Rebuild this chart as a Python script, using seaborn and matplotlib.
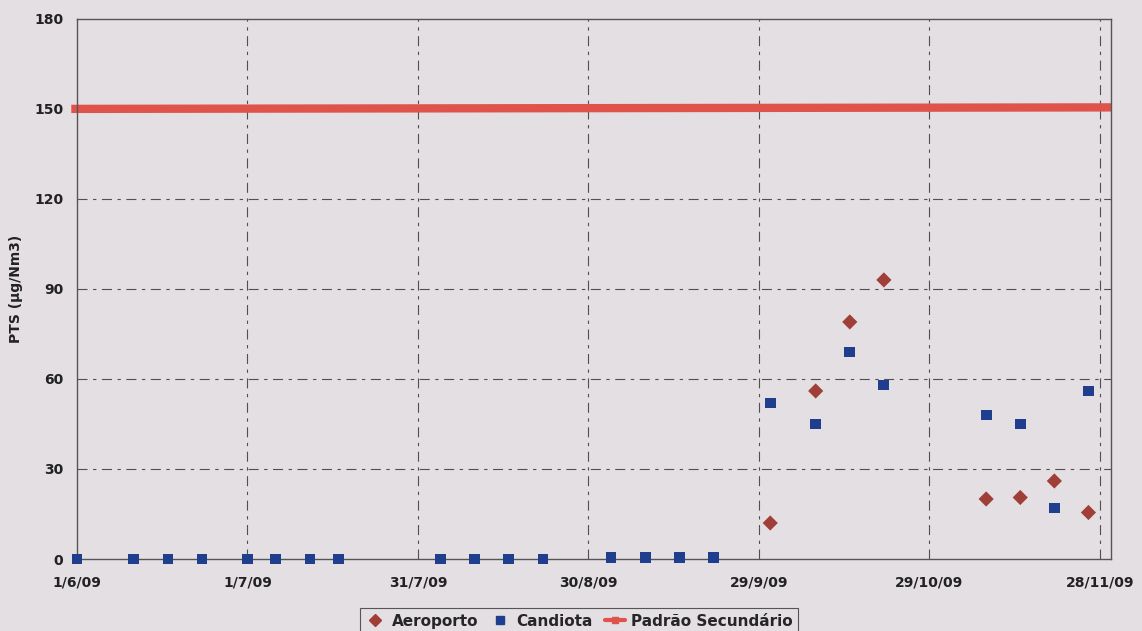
import matplotlib
matplotlib.use("Agg")
import matplotlib.pyplot as plt
import seaborn as sns
import pandas as pd
from matplotlib.lines import Line2D

# ---- data ----
candiota_dates = ["2009-06-01", "2009-06-11", "2009-06-17", "2009-06-23", "2009-07-01",
                  "2009-07-06", "2009-07-12", "2009-07-17", "2009-08-04", "2009-08-10",
                  "2009-08-16", "2009-08-22", "2009-09-03", "2009-09-09", "2009-09-15",
                  "2009-09-21", "2009-10-01", "2009-10-09", "2009-10-15", "2009-10-21",
                  "2009-11-08", "2009-11-14", "2009-11-20", "2009-11-26"]
candiota_values = [0, 0, 0, 0, 0, 0, 0, 0, 0, 0, 0, 0, 0.5, 0.5, 0.5, 0.5,
                   52, 45, 69, 58, 48, 45, 17, 56]
aeroporto_dates = ["2009-10-01", "2009-10-09", "2009-10-15", "2009-10-21",
                   "2009-11-08", "2009-11-14", "2009-11-20", "2009-11-26"]
aeroporto_values = [12, 56, 79, 93, 20, 20.5, 26, 15.5]
padrao_dates = ["2009-05-31", "2009-11-30"]
padrao_values = [150, 150.5]
x_ticks = ["2009-06-01", "2009-07-01", "2009-07-31", "2009-08-30",
           "2009-09-29", "2009-10-29", "2009-11-28"]
x_tick_labels = ["1/6/09", "1/7/09", "31/7/09", "30/8/09", "29/9/09", "29/10/09", "28/11/09"]
y_ticks = [0, 30, 60, 90, 120, 150, 180]

# ---- style ----
bg = "#e3dfe3"
sns.set_theme(style="white")
plt.rcParams["font.family"] = ["DejaVu Sans"]

df = pd.concat([
    pd.DataFrame({"date": pd.to_datetime(aeroporto_dates), "PTS": aeroporto_values, "serie": "Aeroporto"}),
    pd.DataFrame({"date": pd.to_datetime(candiota_dates), "PTS": candiota_values, "serie": "Candiota"}),
], ignore_index=True)
dfp = pd.DataFrame({"date": pd.to_datetime(padrao_dates), "PTS": padrao_values, "serie": "Padrão Secundário"})

fig = plt.figure(figsize=(11.42, 6.31), dpi=100, facecolor=bg)
ax = fig.add_axes([0.0674, 0.1141, 0.9056, 0.856])
ax.set_facecolor(bg)

sns.lineplot(data=dfp, x="date", y="PTS", ax=ax, color="#e0534a", linewidth=6,
             legend=False, zorder=2, clip_on=False, solid_capstyle="butt")
sns.scatterplot(data=df, x="date", y="PTS", hue="serie", style="serie",
                palette={"Aeroporto": "#a03f38", "Candiota": "#1f3f8e"},
                markers={"Aeroporto": "D", "Candiota": "s"},
                s=60, linewidth=0, ax=ax, legend=False, zorder=3, clip_on=False)

ax.set_xlim(pd.Timestamp("2009-06-01"), pd.Timestamp("2009-11-30"))
ax.set_ylim(0, 180)
ax.set_xticks(pd.to_datetime(x_ticks))
ax.set_xticklabels(x_tick_labels)
ax.set_yticks(y_ticks)
ax.set_xlabel("")
ax.set_ylabel("PTS (µg/Nm3)", fontsize=10, fontweight="bold", color="#222222", labelpad=8)

for lab in ax.get_xticklabels() + ax.get_yticklabels():
    lab.set_fontweight("bold")
    lab.set_fontsize(10)
    lab.set_color("#222222")
ax.tick_params(axis="x", length=4, width=0.8, color="#555555", pad=10, direction="inout")
ax.tick_params(axis="y", length=0, pad=10)

grid_kw = dict(color="#505050", linewidth=0.8, linestyle=(0, (9, 5, 3, 5)), zorder=1)
for yv in y_ticks[1:-1]:
    if yv != 150:
        ax.axhline(yv, **grid_kw)
for xv in pd.to_datetime(x_ticks[1:]):
    ax.axvline(xv, **grid_kw)

for sp in ax.spines.values():
    sp.set_color("#555555")
    sp.set_linewidth(1.0)

handles = [
    Line2D([], [], marker="D", linestyle="none", color="#a03f38", markersize=6),
    Line2D([], [], marker="s", linestyle="none", color="#1f3f8e", markersize=6),
    Line2D([], [], marker="s", linestyle="-", color="#e0534a", linewidth=3, markersize=5),
]
leg = fig.legend(handles, ["Aeroporto", "Candiota", "Padrão Secundário"],
                 loc="lower center", bbox_to_anchor=(0.507, -0.012), ncol=3,
                 frameon=True, fancybox=False, edgecolor="#333333", facecolor=bg,
                 prop={"weight": "bold", "size": 11}, handlelength=1.3,
                 handletextpad=0.4, columnspacing=0.8, borderpad=0.35,
                 borderaxespad=0.3)
leg.get_frame().set_linewidth(0.8)

fig.savefig("out.png", dpi=100, facecolor=bg)
